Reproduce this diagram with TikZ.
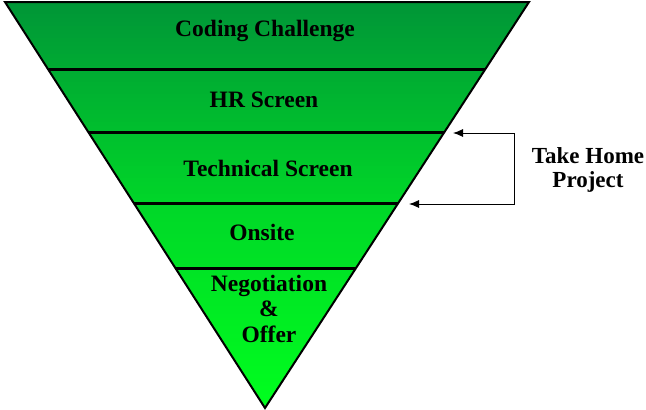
\documentclass[tikz,border=0pt]{standalone}
\usepackage{fontspec}
\setmainfont{Liberation Serif}
\usetikzlibrary{arrows.meta}
\tikzset{
  lbl/.style={anchor=base, inner sep=0pt, font=\fontsize{23.5}{25.5}\selectfont\bfseries, align=center},
  divider/.style={line width=3pt},
  arr/.style={line width=0.9pt, {Latex[length=10pt,width=8pt]}-{Latex[length=10pt,width=8pt]}},
}
\begin{document}
\begin{tikzpicture}[x=1pt,y=-1pt]
\useasboundingbox (0,0) rectangle (646,410);
\coordinate (TL) at (5,2);
\coordinate (TR) at (529,2);
\coordinate (AP) at (265,408);
\begin{scope}
\clip (TL) -- (TR) -- (AP) -- cycle;
\foreach \i in {0,...,101}{
  \pgfmathsetmacro{\t}{\i/101}
  \pgfmathsetmacro{\g}{\t<0.5 ? 150+2*\t*65 : 215+(2*\t-1)*40}
  \pgfmathsetmacro{\bl}{\t<0.5 ? 55-2*\t*15 : 40-(2*\t-1)*10}
  \definecolor{stripc}{RGB}{0,\g,\bl}
  \fill[stripc] (0,{2+4*\i-0.3}) rectangle (646,{2+4*\i+4.3});
}
\end{scope}
% dividers
\foreach \y/\n in {70/d1,133/d2,204/d3,268/d4}{
  \path (TL) -- (AP) coordinate[pos={(\y-2)/406}] (\n L);
  \path (TR) -- (AP) coordinate[pos={(\y-2)/406}] (\n R);
  \draw[divider] (\n L) -- (\n R);
}
\draw[line width=2pt, line join=miter] (TL) -- (TR) -- (AP) -- cycle;
% labels
\node[lbl] (coding) at (265,36) {Coding Challenge};
\node[lbl] (hr) at (264,107) {HR Screen};
\node[lbl] (tech) at (268,176) {Technical Screen};
\node[lbl] (onsite) at (262,240) {Onsite};
\node[lbl] (neg) at (269,342) {Negotiation\\\&\\Offer};
\node[lbl, font=\fontsize{23}{24}\selectfont\bfseries] (proj) at (588,187) {Take Home\\Project};
% connector
\coordinate (t1) at (453,133);
\coordinate (t2) at (409,204);
\coordinate (c2) at (514,204);
\draw[arr] (t1) -| (c2) -- (t2);
\end{tikzpicture}
\end{document}
